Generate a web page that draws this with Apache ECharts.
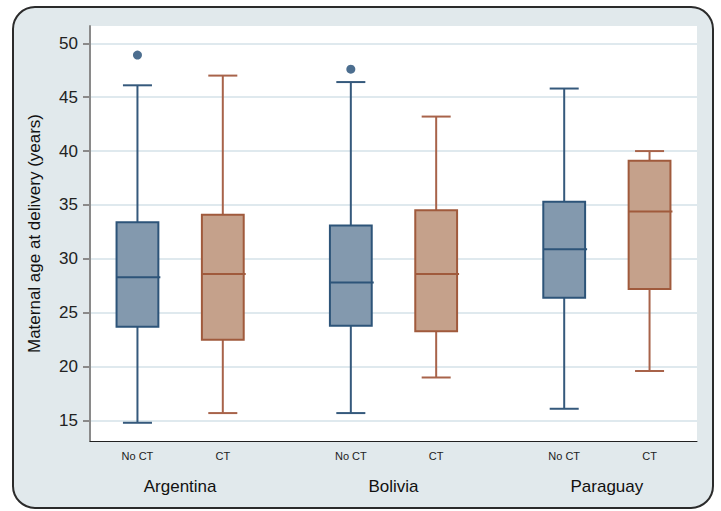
<!DOCTYPE html>
<html>
<head>
<meta charset="utf-8">
<script src="https://cdn.jsdelivr.net/npm/echarts@6/dist/echarts.min.js"></script>
<style>
  html, body { margin: 0; padding: 0; background: #ffffff; }
  #chart { width: 721px; height: 511px; }
</style>
</head>
<body>
<div id="chart"></div>
<script>
// ---- data ----
const countries = ['Argentina', 'Bolivia', 'Paraguay'];
const groups = ['No CT', 'CT'];
// positions of each box on the x axis (in box-slot units)
const boxPositions = [0, 1, 2.5, 3.5, 5, 6];
const countryPositions = [0.5, 3, 5.5];
// [min, Q1, median, Q3, max]
const argentinaNoCT = [14.8, 23.7, 28.3, 33.4, 46.1];
const argentinaCT   = [15.7, 22.5, 28.6, 34.1, 47.0];
const boliviaNoCT   = [15.7, 23.8, 27.8, 33.1, 46.4];
const boliviaCT     = [19.0, 23.3, 28.6, 34.5, 43.2];
const paraguayNoCT  = [16.1, 26.4, 30.9, 35.3, 45.8];
const paraguayCT    = [19.6, 27.2, 34.4, 39.1, 40.0];
const outliers = [[0, 48.9], [2.5, 47.6]];
const yTicks = [15, 20, 25, 30, 35, 40, 45, 50];

const boxes = [argentinaNoCT, argentinaCT, boliviaNoCT, boliviaCT, paraguayNoCT, paraguayCT];
const styles = {
  0: { fill: '#8399ae', stroke: '#2d5479', whisker: '#35597c' },
  1: { fill: '#c5a18b', stroke: '#a05a3c', whisker: '#a8634a' }
};
const boxData = boxes.map((b, i) => [boxPositions[i]].concat(b).concat([i % 2]));

const xMin = -0.556, xMax = 6.556;
const FONT = '"Liberation Sans", Arial, sans-serif';

const chart = echarts.init(document.getElementById('chart'), null, { renderer: 'svg' });

function renderBox(params, api) {
  const x = api.value(0);
  const vmin = api.value(1), q1 = api.value(2), med = api.value(3), q3 = api.value(4), vmax = api.value(5);
  const st = styles[api.value(6)];
  const pMin = api.coord([x, vmin]);
  const pQ1 = api.coord([x, q1]);
  const pMed = api.coord([x, med]);
  const pQ3 = api.coord([x, q3]);
  const pMax = api.coord([x, vmax]);
  const bw = api.size([0.49, 0])[0];
  const cw = api.size([0.34, 0])[0];
  const cx = pMed[0];
  return {
    type: 'group',
    children: [
      { type: 'line', shape: { x1: cx, y1: pQ3[1], x2: cx, y2: pMax[1] }, style: { stroke: st.whisker, lineWidth: 2 } },
      { type: 'line', shape: { x1: cx, y1: pMin[1], x2: cx, y2: pQ1[1] }, style: { stroke: st.whisker, lineWidth: 2 } },
      { type: 'line', shape: { x1: cx - cw / 2, y1: pMax[1], x2: cx + cw / 2, y2: pMax[1] }, style: { stroke: st.whisker, lineWidth: 2 } },
      { type: 'line', shape: { x1: cx - cw / 2, y1: pMin[1], x2: cx + cw / 2, y2: pMin[1] }, style: { stroke: st.whisker, lineWidth: 2 } },
      { type: 'rect', shape: { x: cx - bw / 2, y: pQ3[1], width: bw, height: pQ1[1] - pQ3[1] }, style: { fill: st.fill, stroke: st.stroke, lineWidth: 2 } },
      { type: 'line', shape: { x1: cx - bw / 2, y1: pMed[1], x2: cx + bw / 2 + 2, y2: pMed[1] }, style: { stroke: st.stroke, lineWidth: 2 } }
    ]
  };
}

const option = {
  animation: false,
  backgroundColor: '#ffffff',
  textStyle: { fontFamily: FONT },
  graphic: [{
    type: 'rect',
    z: -100,
    shape: { x: 13, y: 7, width: 700, height: 501, r: 22 },
    style: { fill: '#e1e9ec', stroke: '#2b2b2b', lineWidth: 2 }
  }],
  grid: {
    left: 90, right: 24, top: 26, bottom: 70,
    show: true, backgroundColor: '#ffffff', borderWidth: 0
  },
  xAxis: [{
    type: 'value', min: xMin, max: xMax,
    axisLine: { show: true, onZero: false, lineStyle: { color: '#222222', width: 1 } },
    axisTick: { show: false },
    splitLine: { show: false },
    axisLabel: {
      customValues: boxPositions,
      formatter: function (v) {
        const i = boxPositions.indexOf(v);
        return i >= 0 ? groups[i % 2] : '';
      },
      fontSize: 11, color: '#222222', margin: 9, fontFamily: FONT
    }
  }, {
    type: 'value', min: xMin, max: xMax, position: 'bottom', offset: 0,
    axisLine: { show: false },
    axisTick: { show: false },
    splitLine: { show: false },
    axisLabel: {
      customValues: countryPositions,
      formatter: function (v) {
        const i = countryPositions.indexOf(v);
        return i >= 0 ? countries[i] : '';
      },
      fontSize: 17, color: '#111111', margin: 37, fontFamily: FONT
    }
  }],
  yAxis: {
    type: 'value', min: 13.11, max: 51.6,
    name: 'Maternal age at delivery (years)',
    nameLocation: 'middle', nameGap: 47,
    nameTextStyle: { fontSize: 17, color: '#111111', fontFamily: FONT },
    axisLine: { show: true, onZero: false, lineStyle: { color: '#8a8a8a', width: 2 } },
    axisTick: { show: true, customValues: yTicks, length: 7, lineStyle: { color: '#8a8a8a', width: 2 } },
    axisLabel: { customValues: yTicks, fontSize: 17, color: '#222222', margin: 12, fontFamily: FONT },
    splitLine: { show: true, lineStyle: { color: '#dfe9ee', width: 2 } }
  },
  series: [{
    type: 'custom',
    renderItem: renderBox,
    data: boxData,
    encode: { x: 0, y: [1, 2, 3, 4, 5] },
    z: 5
  }, {
    type: 'scatter',
    data: outliers,
    symbolSize: 9,
    itemStyle: { color: '#1f4a73' },
    z: 6
  }]
};
chart.setOption(option);
</script>
</body>
</html>
